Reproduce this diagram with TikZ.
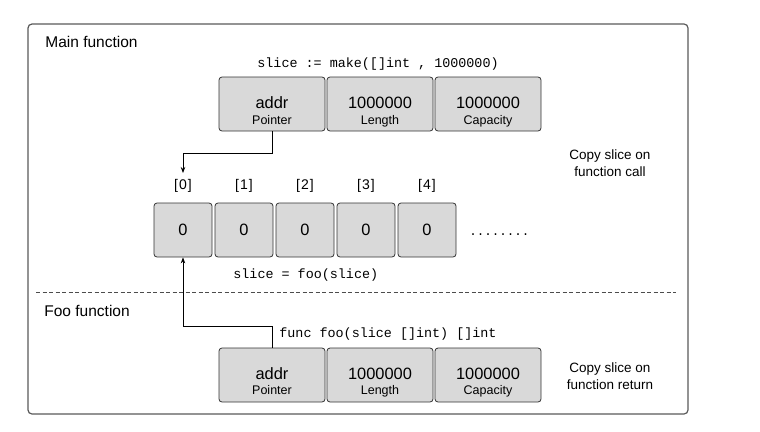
\documentclass[tikz,border=0pt]{standalone}
\usepackage{fontspec}
\setmainfont{Liberation Sans}
\setmonofont{Liberation Mono}
\usetikzlibrary{arrows.meta,positioning}

\begin{document}
\begin{tikzpicture}[x=1pt, y=-1pt, thick]
    % Define styles
    \tikzstyle{cell} = [rectangle, draw=black!80, fill=gray!30, rounded corners=3pt, minimum width=106pt, minimum height=54pt, inner sep=0pt, line width=0.8pt]
    \tikzstyle{elem} = [cell, minimum width=58pt]
    \tikzstyle{val} = [font=\fontsize{16.4}{18}\selectfont, inner sep=0pt, anchor=base]
    \tikzstyle{capt} = [font=\fontsize{12.5}{14}\selectfont, inner sep=0pt, anchor=base]
    \tikzstyle{idx} = [font=\fontsize{14}{16}\selectfont, inner sep=0pt, anchor=base]
    \tikzstyle{code} = [font=\ttfamily\fontsize{13.4}{15}\selectfont, inner sep=0pt, anchor=base west]
    \tikzstyle{title} = [font=\fontsize{15.5}{17}\selectfont, inner sep=0pt, anchor=base west]
    \tikzstyle{note} = [font=\fontsize{13.5}{17}\selectfont, align=center, inner sep=0pt]
    \tikzstyle{link} = [draw, line width=0.8pt, -{Stealth[length=6pt, width=4.5pt]}]

    \useasboundingbox (0,0) rectangle (760,431);

    % Frame and separator
    \draw [rounded corners=4pt, draw=black!65, line width=1.2pt] (28,24) rectangle (688,414);
    \draw [dashed, dash pattern=on 4pt off 2.5pt, draw=black!70, line width=0.8pt] (36,292.5) -- (676,292.5);

    % Main function
    \node [title] (maintitle) at (45,47) {Main function};
    \node [code] (makeline) at (257,67) {slice := make([]int , 1000000)};

    \node [cell] (ptr) at (272,104) {};
    \node [cell, right=1.2pt of ptr] (len) {};
    \node [cell, right=1.2pt of len] (capy) {};
    \node [val] (ptrv) at ([yshift=-32pt]ptr.north) {addr};
    \node [capt] (ptrc) at ([yshift=-48pt]ptr.north) {Pointer};
    \node [val] (lenv) at ([yshift=-32pt]len.north) {1000000};
    \node [capt] (lenc) at ([yshift=-48pt]len.north) {Length};
    \node [val] (capyv) at ([yshift=-32pt]capy.north) {1000000};
    \node [capt] (capyc) at ([yshift=-48pt]capy.north) {Capacity};

    \node [note] (callnote) at (610,163) {Copy slice on\\function call};

    % Place nodes - backing array
    \node [elem] (e0) at (183,230) {};
    \node [elem, right=2.2pt of e0] (e1) {};
    \node [elem, right=2.2pt of e1] (e2) {};
    \node [elem, right=2.2pt of e2] (e3) {};
    \node [elem, right=2.2pt of e3] (e4) {};
    \node [val] (z0) at ([yshift=-33pt]e0.north) {0};
    \node [val] (z1) at ([yshift=-33pt]e1.north) {0};
    \node [val] (z2) at ([yshift=-33pt]e2.north) {0};
    \node [val] (z3) at ([yshift=-33pt]e3.north) {0};
    \node [val] (z4) at ([yshift=-33pt]e4.north) {0};
    \node [idx] (i0) at ([yshift=13pt]e0.north) {[\kern1pt 0\kern1pt]};
    \node [idx] (i1) at ([yshift=13pt]e1.north) {[\kern1pt 1\kern1pt]};
    \node [idx] (i2) at ([yshift=13pt]e2.north) {[\kern1pt 2\kern1pt]};
    \node [idx] (i3) at ([yshift=13pt]e3.north) {[\kern1pt 3\kern1pt]};
    \node [idx] (i4) at ([yshift=13pt]e4.north) {[\kern1pt 4\kern1pt]};
    \node [code, font=\ttfamily\fontsize{12.5}{14}\selectfont] (more) at (469,235) {........};
    \node [code] (callline) at (233,278) {slice = foo(slice)};

    % Foo function
    \node [title] (footitle) at (44,316) {Foo function};
    \node [code] (sigline) at (279,337) {func foo(slice []int) []int};

    \node [cell] (fptr) at (272,375) {};
    \node [cell, right=1.2pt of fptr] (flen) {};
    \node [cell, right=1.2pt of flen] (fcapy) {};
    \node [val] (fptrv) at ([yshift=-32pt]fptr.north) {addr};
    \node [capt] (fptrc) at ([yshift=-47pt]fptr.north) {Pointer};
    \node [val] (flenv) at ([yshift=-32pt]flen.north) {1000000};
    \node [capt] (flenc) at ([yshift=-47pt]flen.north) {Length};
    \node [val] (fcapyv) at ([yshift=-32pt]fcapy.north) {1000000};
    \node [capt] (fcapyc) at ([yshift=-47pt]fcapy.north) {Capacity};

    \node [note] (retnote) at (610,376) {Copy slice on\\function return};

    % Draw pointers
    \coordinate (tip0) at (183,173);
    \path [link] (ptr.south) -- ++(0,22) -| (tip0);
    \path [link] (fptr.north) -- ++(0,-21) -| (e0.south);

\end{tikzpicture}
\end{document}
